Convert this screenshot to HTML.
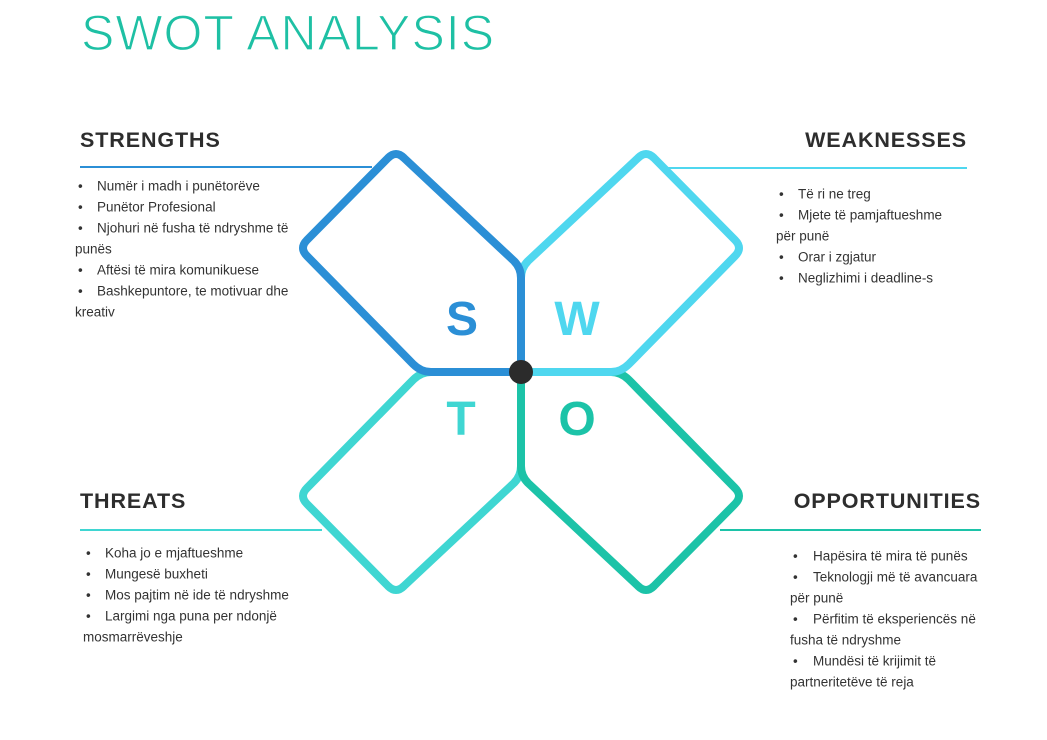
<!DOCTYPE html>
<html><head><meta charset="utf-8"><style>
html,body{margin:0;padding:0;background:#fff;width:1047px;height:740px;overflow:hidden}
svg{display:block;font-family:"Liberation Sans",sans-serif}
.b{font-size:13.5px;fill:#333}
.h{font-size:21.5px;font-weight:bold;fill:#2d2d2d;letter-spacing:0.9px}
.l{font-size:48px;font-weight:bold}
</style></head><body>
<svg width="1047" height="740" viewBox="0 0 1047 740">
<text x="81" y="50" font-size="50" fill="#1ec0a4" stroke="#fff" stroke-width="1.2" letter-spacing="1">SWOT ANALYSIS</text>

<g fill="none" stroke-width="8" stroke-linejoin="round" stroke-linecap="round">
<path stroke="#3fd6d2" d="M388,586 L307,504 Q299,496 307,488 L413,380 Q421,372 431,372 L521,372 L521,466 Q521,476 514,483 L404,586 Q396,594 388,586 Z"/>
<path stroke="#1cc3a8" d="M654,586 L735,504 Q743,496 735,488 L629,380 Q621,372 611,372 L521,372 L521,466 Q521,476 528,483 L638,586 Q646,594 654,586 Z"/>
<path stroke="#4fd7ef" d="M654,158 L735,240 Q743,248 735,256 L629,364 Q621,372 611,372 L521,372 L521,278 Q521,268 528,261 L638,158 Q646,150 654,158 Z"/>
<path stroke="#2b8fd6" d="M388,158 L307,240 Q299,248 307,256 L413,364 Q421,372 431,372 L521,372 L521,278 Q521,268 514,261 L404,158 Q396,150 388,158 Z"/>
</g>
<circle cx="521" cy="372" r="12" fill="#2b2b2b"/>

<g class="l" text-anchor="middle">
<text x="462" y="335" fill="#2b8fd6">S</text>
<text x="577" y="335" fill="#4fd7ef">W</text>
<text x="461" y="435" fill="#3fd6d2">T</text>
<text x="577" y="435" fill="#1cc3a8">O</text>
</g>

<text class="h" x="80" y="147">STRENGTHS</text>
<line x1="80" y1="167" x2="372" y2="167" stroke="#2b8fd6" stroke-width="2"/>
<text class="h" x="967" y="147" text-anchor="end">WEAKNESSES</text>
<line x1="660" y1="168" x2="967" y2="168" stroke="#4fd7ef" stroke-width="2"/>
<text class="h" x="80" y="508">THREATS</text>
<line x1="80" y1="530" x2="322" y2="530" stroke="#3fd6d2" stroke-width="2"/>
<text class="h" x="981" y="508" text-anchor="end">OPPORTUNITIES</text>
<line x1="720" y1="530" x2="981" y2="530" stroke="#1cc3a8" stroke-width="2"/>

<g class="b" dominant-baseline="middle">
<text x="78" y="187">•</text><text x="97" y="187">Numër i madh i punëtorëve</text>
<text x="78" y="208">•</text><text x="97" y="208">Punëtor Profesional</text>
<text x="78" y="229">•</text><text x="97" y="229">Njohuri në fusha të ndryshme të</text>
<text x="75" y="250">punës</text>
<text x="78" y="271">•</text><text x="97" y="271">Aftësi të mira komunikuese</text>
<text x="78" y="292">•</text><text x="97" y="292">Bashkepuntore, te motivuar dhe</text>
<text x="75" y="313">kreativ</text>
</g>
<g class="b" dominant-baseline="middle">
<text x="779" y="195">•</text><text x="798" y="195">Të ri ne treg</text>
<text x="779" y="216">•</text><text x="798" y="216">Mjete të pamjaftueshme</text>
<text x="776" y="237">për punë</text>
<text x="779" y="258">•</text><text x="798" y="258">Orar i zgjatur</text>
<text x="779" y="279">•</text><text x="798" y="279">Neglizhimi i deadline-s</text>
</g>
<g class="b" dominant-baseline="middle">
<text x="86" y="554">•</text><text x="105" y="554">Koha jo e mjaftueshme</text>
<text x="86" y="575">•</text><text x="105" y="575">Mungesë buxheti</text>
<text x="86" y="596">•</text><text x="105" y="596">Mos pajtim në ide të ndryshme</text>
<text x="86" y="617">•</text><text x="105" y="617">Largimi nga puna per ndonjë</text>
<text x="83" y="638">mosmarrëveshje</text>
</g>
<g class="b" dominant-baseline="middle">
<text x="793" y="557">•</text><text x="813" y="557">Hapësira të mira të punës</text>
<text x="793" y="578">•</text><text x="813" y="578">Teknologji më të avancuara</text>
<text x="790" y="599">për punë</text>
<text x="793" y="620">•</text><text x="813" y="620">Përfitim të eksperiencës në</text>
<text x="790" y="641">fusha të ndryshme</text>
<text x="793" y="662">•</text><text x="813" y="662">Mundësi të krijimit të</text>
<text x="790" y="683">partneritetëve të reja</text>
</g>
</svg>
</body></html>
